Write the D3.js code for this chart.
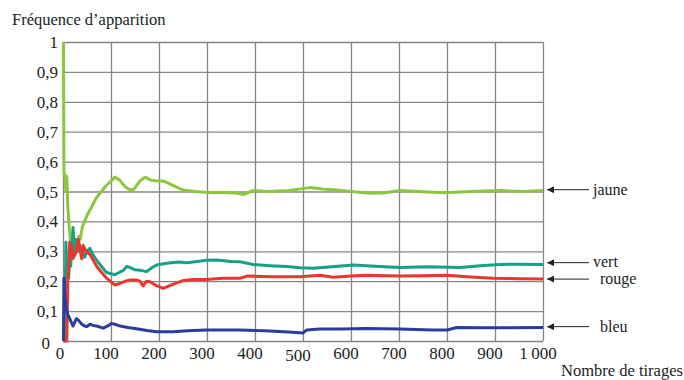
<!DOCTYPE html>
<html>
<head>
<meta charset="utf-8">
<script src="https://cdn.jsdelivr.net/npm/d3@7"></script>
<style>
  html, body { margin: 0; padding: 0; background: #fff; }
</style>
</head>
<body>
<div id="chart"></div>
<script>
// tick labels
const xTicks = [0, 100, 200, 300, 400, 500, 600, 700, 800, 900, 1000];
const yTicks = [0, 0.1, 0.2, 0.3, 0.4, 0.5, 0.6, 0.7, 0.8, 0.9, 1];

// series: [nombre de tirages, fréquence]
const jaune = [[1,1],[2,0.57],[4,0.55],[6,0.5],[8,0.55],[10,0.45],[13,0.38],[16,0.33],[19,0.29],[21,0.36],[23,0.3],
  [26,0.33],[29,0.3],[33,0.35],[36,0.34],[40,0.38],[50,0.42],[60,0.45],[70,0.48],[80,0.5],[90,0.52],[100,0.535],
  [108,0.548],[118,0.538],[130,0.515],[140,0.505],[148,0.508],[160,0.535],[171,0.548],[183,0.538],[195,0.535],
  [210,0.535],[230,0.52],[250,0.505],[275,0.5],[300,0.497],[330,0.497],[360,0.495],[376,0.49],[396,0.503],[430,0.5],
  [470,0.503],[515,0.513],[540,0.508],[570,0.505],[605,0.499],[640,0.494],[667,0.495],[702,0.503],[740,0.5],
  [792,0.496],[850,0.5],[910,0.503],[960,0.5],[1000,0.503]];
const vert = [[1,0],[3,0],[5,0.2],[6,0.33],[8,0.22],[10,0.25],[12,0.21],[14,0.3],[16,0.25],[19,0.32],[21,0.38],
  [23,0.3],[26,0.34],[30,0.3],[35,0.32],[40,0.3],[45,0.28],[50,0.3],[56,0.31],[62,0.29],[70,0.27],[80,0.25],
  [90,0.23],[100,0.225],[108,0.222],[118,0.23],[126,0.236],[133,0.25],[140,0.245],[150,0.238],[160,0.237],
  [174,0.232],[185,0.245],[195,0.254],[216,0.26],[240,0.264],[258,0.262],[280,0.266],[299,0.27],[320,0.271],
  [350,0.266],[369,0.265],[396,0.256],[430,0.252],[466,0.249],[494,0.245],[521,0.243],[560,0.248],[605,0.254],
  [650,0.25],[702,0.246],[760,0.248],[827,0.246],[870,0.252],[910,0.256],[950,0.257],[1000,0.256]];
const rouge = [[1,0],[8,0],[10,0.2],[12,0.25],[14,0.33],[16,0.28],[18,0.32],[21,0.276],[25,0.29],[28,0.3],
  [32,0.34],[36,0.3],[39,0.275],[42,0.32],[48,0.3],[56,0.29],[63,0.27],[70,0.25],[80,0.23],[91,0.21],[100,0.198],
  [108,0.187],[119,0.193],[130,0.2],[140,0.204],[153,0.204],[160,0.2],[167,0.184],[174,0.2],[181,0.198],
  [195,0.185],[209,0.176],[230,0.19],[250,0.202],[270,0.206],[299,0.206],[333,0.21],[369,0.21],[383,0.217],
  [431,0.215],[494,0.215],[535,0.22],[563,0.213],[600,0.217],[632,0.22],[670,0.218],[702,0.217],[750,0.218],
  [799,0.22],[850,0.214],[896,0.21],[950,0.208],[1000,0.207]];
const bleu = [[1,0],[2,0.21],[3,0.2],[4,0.15],[6,0.12],[8,0.1],[11,0.085],[14,0.075],[18,0.06],[21,0.05],
  [25,0.065],[28,0.075],[32,0.07],[38,0.058],[45,0.05],[50,0.048],[56,0.056],[63,0.052],[70,0.05],[84,0.043],
  [95,0.052],[101,0.059],[110,0.055],[119,0.05],[135,0.045],[150,0.042],[175,0.035],[195,0.031],[230,0.031],
  [260,0.034],[299,0.037],[327,0.037],[369,0.037],[420,0.034],[470,0.03],[500,0.027],[508,0.037],[535,0.04],
  [580,0.04],[632,0.042],[700,0.04],[771,0.037],[800,0.037],[820,0.045],[870,0.044],[930,0.044],[1000,0.045]];

const seriesNames = ["jaune", "vert", "rouge", "bleu"];
const seriesColors = ["#8cc63f", "#16a085", "#e8372c", "#2a3c9e"];
const legendValues = [0.506, 0.262, 0.207, 0.048];

const width = 684, height = 380;
const svg = d3.select("#chart").append("svg")
    .attr("width", width)
    .attr("height", height)
    .attr("font-family", "Liberation Serif");

const x = d3.scaleLinear().domain([0, 1000]).range([63, 543]);
const y = d3.scaleLinear().domain([0, 1]).range([341, 42]);

const comma = d3.formatLocale({ decimal: ",", thousands: "\u2009", grouping: [3], currency: ["", ""] });
const fmtY = d => d === 0 || d === 1 ? String(d) : comma.format(".1f")(d);
const fmtX = d => comma.format(",")(d);

// grid
svg.append("g")
    .attr("transform", `translate(0,${y(0)})`)
    .call(d3.axisBottom(x).tickValues(xTicks).tickSize(-(y(0) - y(1))).tickFormat(""))
    .call(g => g.select(".domain").remove())
    .call(g => g.selectAll("line").attr("stroke", "#858585").attr("stroke-width", 1.3));

svg.append("g")
    .attr("transform", `translate(${x(0)},0)`)
    .call(d3.axisLeft(y).tickValues(yTicks).tickSize(-(x(1000) - x(0))).tickFormat(""))
    .call(g => g.select(".domain").remove())
    .call(g => g.selectAll("line").attr("stroke", "#858585").attr("stroke-width", 1.3));

// y labels
svg.append("g").selectAll("text")
    .data(yTicks)
    .enter().append("text")
    .attr("x", d => d === 0 ? 50 : 58)
    .attr("y", d => y(d) + 6 + (d === 0 ? 2 : 0))
    .attr("text-anchor", "end")
    .attr("font-size", 17)
    .attr("fill", "#222")
    .text(fmtY);

// x labels
svg.append("g").selectAll("text")
    .data(xTicks)
    .enter().append("text")
    .attr("x", d => d === 0 ? x(d) - 3 : x(d) - 5)
    .attr("y", d => d === 500 ? 361 : 359)
    .attr("text-anchor", "middle")
    .attr("font-size", 17)
    .attr("fill", "#222")
    .text(fmtX);

svg.append("text")
    .attr("x", 12).attr("y", 25)
    .attr("font-size", 16.5)
    .attr("fill", "#222")
    .text("Fréquence d\u2019apparition");

svg.append("text")
    .attr("x", 561).attr("y", 376)
    .attr("font-size", 16.5)
    .attr("fill", "#222")
    .text("Nombre de tirages");

// curves
const line = d3.line()
    .x(d => x(d[0]))
    .y(d => y(d[1]));

const allSeries = [jaune, vert, rouge, bleu];
allSeries.forEach((s, i) => {
  svg.append("path")
      .datum(s)
      .attr("fill", "none")
      .attr("stroke", seriesColors[i])
      .attr("stroke-width", 3)
      .attr("stroke-linejoin", "round")
      .attr("d", line);
});

// legend arrows, head pointing left towards the curves
svg.append("defs").append("marker")
    .attr("id", "head")
    .attr("viewBox", "0 0 10 10")
    .attr("refX", 0).attr("refY", 5)
    .attr("markerWidth", 10).attr("markerHeight", 7)
    .attr("markerUnits", "userSpaceOnUse")
    .attr("orient", "0")
    .append("path")
    .attr("d", "M0,5 L10,0 L10,10 Z")
    .attr("fill", "#222");

const legend = svg.append("g").selectAll("g")
    .data(seriesNames)
    .enter().append("g");

legend.append("line")
    .attr("x1", 547).attr("x2", 589)
    .attr("y1", (d, i) => y(legendValues[i]))
    .attr("y2", (d, i) => y(legendValues[i]))
    .attr("stroke", "#222")
    .attr("stroke-width", 1)
    .attr("marker-start", "url(#head)");

legend.append("text")
    .attr("x", (d, i) => i < 2 ? 593 : 600)
    .attr("y", (d, i) => y(legendValues[i]) + (i === 1 ? 4 : 5))
    .attr("font-size", 16)
    .attr("fill", "#222")
    .text(d => d);
</script>
</body>
</html>
